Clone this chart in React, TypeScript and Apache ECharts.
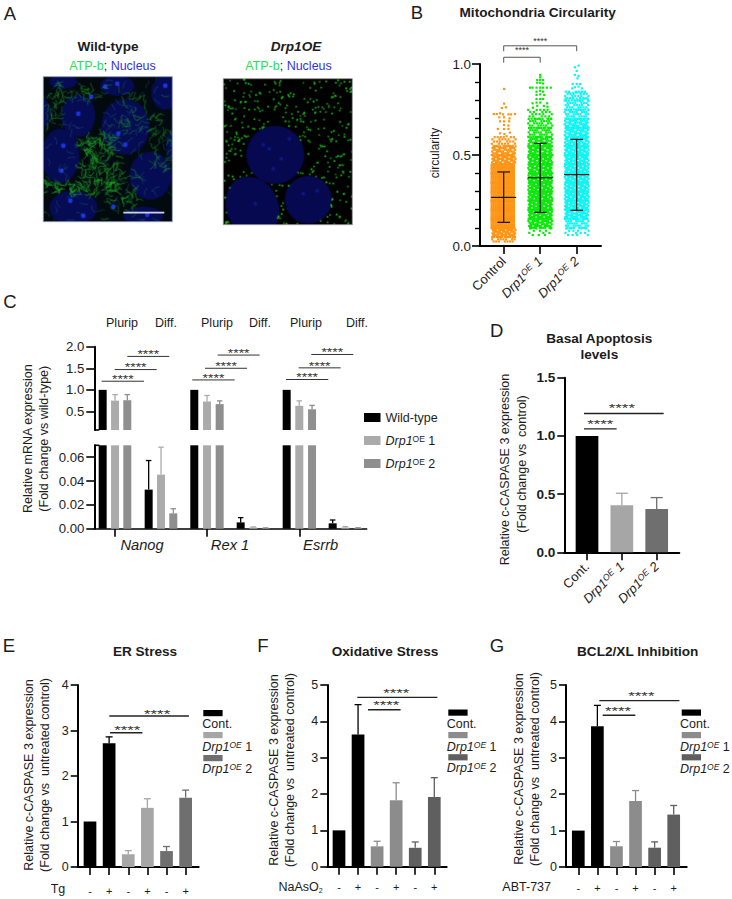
import React, { useEffect, useRef } from "react";
import * as echarts from "echarts";

const FONT = "Liberation Sans";
const INK = "#1c1c1c";

// ---------- Panel B: circularity ----------
const groupsB = ["Control", "Drp1OE 1", "Drp1OE 2"];
const colorsB = ["#ff9414", "#0ae80a", "#0cf5f5"];
// Dots per swarm row, per 0.05-wide band of circularity
const controlRows = [7, 12, 13, 13, 13, 13, 13, 13, 13, 11, 9, 6];
const drp1Rows = [0, 3, 10, 12, 12, 12, 12, 12, 11, 11, 10, 9, 8, 7, 5];
const drp2Rows = [0, 4, 8, 10, 11, 12, 12, 12, 12, 11, 11, 10, 9, 9, 8, 7, 6];
const lowestB = [0.025, 0.06, 0.06];
// Sparse tails read dot by dot: [offset from column centre, circularity]
const controlTail = [[0.01, 0.863], [0.01, 0.782], [-0.05, 0.758], [0.06, 0.762], [-0.27, 0.725], [-0.19, 0.725], [-0.1, 0.729], [-0.02, 0.723], [0.13, 0.723], [0.2, 0.723], [0.31, 0.725], [-0.12, 0.707], [0.01, 0.707], [0.16, 0.701], [-0.1, 0.685], [0.01, 0.685], [0.15, 0.685], [0.01, 0.665], [0.13, 0.662], [-0.16, 0.643], [0.01, 0.643], [0.13, 0.643], [0.17, 0.623], [-0.1, 0.619], [0.02, 0.615], [0.08, 0.603]];
const drp1Tail = [[0, 0.94], [0, 0.927], [0, 0.912], [-0.08, 0.912], [0.08, 0.912], [0, 0.897], [-0.08, 0.897], [0.08, 0.893], [-0.28, 0.87], [-0.21, 0.87], [-0.1, 0.87], [0, 0.87], [0.08, 0.87], [0.18, 0.87], [0.29, 0.87], [0, 0.853], [-0.1, 0.848], [0.08, 0.848], [0, 0.833], [-0.1, 0.83], [0.11, 0.83], [0, 0.808], [-0.1, 0.808], [0.08, 0.808], [0, 0.788], [-0.1, 0.788], [-0.21, 0.784], [0.19, 0.784], [-0.08, 0.77], [0.1, 0.77], [0.2, 0.765], [-0.2, 0.76]];
const drp2Tail = [[0.05, 0.991], [-0.05, 0.982], [0, 0.962], [-0.05, 0.94], [0.05, 0.934], [0.02, 0.921], [-0.11, 0.89], [0, 0.89], [0.09, 0.89], [-0.05, 0.872], [0.05, 0.876], [0.14, 0.866], [-0.12, 0.866], [-0.2, 0.842], [-0.09, 0.842], [0, 0.842], [0.11, 0.842], [0.21, 0.842], [-0.3, 0.81], [-0.2, 0.81], [-0.1, 0.81], [0, 0.81], [0.1, 0.81], [0.2, 0.81], [0.3, 0.81]];
const meansB = [0.267, 0.375, 0.392];
const lowsB = [0.13, 0.185, 0.196];
const highsB = [0.407, 0.564, 0.586];

// ---------- Panel C: mRNA ----------
const genotypesC = ["Wild-type", "Drp1OE 1", "Drp1OE 2"];
const colorsC = ["#000000", "#ababab", "#8f8f8f"];
const genesC = ["Nanog", "Rex 1", "Esrrb"];
const slotsWT = [1, 8.33, 15.72];
const slotsOE1 = [1.99, 9.35, 16.73];
const slotsOE2 = [2.97, 10.36, 17.75];
const diffWT = [4.68, 12.04, 19.4];
const diffOE1 = [5.67, 13.05, 20.41];
const diffOE2 = [6.65, 14.04, 21.43];
const plurWT = [1, 1, 1];
const plurOE1 = [0.75, 0.73, 0.63];
const plurOE2 = [0.76, 0.67, 0.55];
const plurOE1Top = [0.89, 0.87, 0.745];
const plurOE2Top = [0.89, 0.745, 0.64];
const diffWTVal = [0.0328, 0.0053, 0.0045];
const diffOE1Val = [0.0454, 0.001, 0.001];
const diffOE2Val = [0.0129, 0.0005, 0.0006];
const diffWTTop = [0.0572, 0.0093, 0.0073];
const diffOE1Top = [0.0684, 0.0015, 0.0018];
const diffOE2Top = [0.0168, 0.0007, 0.0008];
const sigC = [[0.92, 4.31, 1.2], [1.96, 5.32, 1.47], [2.97, 6.33, 1.775], [8.17, 11.56, 1.23], [9.19, 12.55, 1.5], [10.2, 13.56, 1.806], [15.67, 19.05, 1.24], [16.68, 20.04, 1.51], [17.69, 21.05, 1.82]];

// ---------- Panels D to G: c-CASPASE 3 ----------
const namesD = ["Cont.", "Drp1OE 1", "Drp1OE 2"];
const valuesD = [1, 0.404, 0.372];
const topsD = [1, 0.507, 0.47];
const colorsD = ["#000000", "#a6a6a6", "#6f6f6f"];
const sigD = [[0.914, 3.2, 1.192, -2, -5.6], [0.914, 1.85, 1.06, 0, -4.9]];

const signs = ["-", "+", "-", "+", "-", "+"];
const valuesE = [1, 2.72, 0.28, 1.3, 0.35, 1.52];
const topsE = [1, 2.86, 0.36, 1.5, 0.45, 1.69];
const colorsE = ["#000000", "#000000", "#a6a6a6", "#a6a6a6", "#6f6f6f", "#6f6f6f"];
const sigE = [[2.01, 6.17, 3.32, 8, -1.9], [2.05, 3.74, 2.95, 1, -2.6]];

const valuesF = [1, 3.64, 0.56, 1.83, 0.52, 1.92];
const topsF = [1, 4.46, 0.7, 2.31, 0.68, 2.45];
const colorsFG = ["#000000", "#000000", "#8c8c8c", "#8c8c8c", "#5f5f5f", "#5f5f5f"];
const sigF = [[1.96, 6.16, 4.66, -1, -3.9], [2.52, 4.23, 4.32, 2, -4.3]];

const valuesG = [1, 3.87, 0.57, 1.81, 0.53, 1.44];
const topsG = [1, 4.44, 0.7, 2.1, 0.69, 1.69];
const sigG = [[2.1, 6.3, 4.57, 2, -3.9], [2.28, 3.99, 4.17, -1, -3.9]];

// ---------- Panel A: painted stand-ins for the micrographs ----------
// [cx, cy, rx, ry, tilt], in pixels inside each image
const nucleiWT = [[35, 39, 17, 21, 0], [82, 50, 24, 28, 0], [17, 79, 19, 27, 0], [107, 99, 21, 24, 0], [30, 131, 24, 17, 0], [74, 9, 17, 10, 0], [122, 16, 14, 17, 0], [0, 36, 7, 14, 0], [100, 139, 20, 9, 0], [20, 5, 14, 7, 0], [128, 70, 5, 14, 0]];
const spotsWT = [[74, 7], [122, 9], [48, 20], [35, 37], [20, 69], [18, 94], [27, 124], [40, 139], [75, 57], [62, 10], [82, 68], [104, 138], [70, 130]];
const clustersWT = [[57, 89, 20, 30, 170, 0.85], [96, 35, 26, 20, 45, 0.65], [120, 72, 12, 20, 32, 0.65], [80, 119, 15, 25, 40, 0.75], [12, 29, 10, 20, 24, 0.65], [20, 110, 16, 6, 36, 0.95], [40, 15, 30, 8, 30, 0.65], [65, 75, 64, 72, 120, 0.35]];
const nucleiOE = [[52, 76, 29, 29, 0], [29, 128, 26, 31, -0.45], [85, 121, 23.5, 24, 0]];
const spotsOE = [[40, 66], [58, 80], [50, 90], [66, 60], [32, 125], [80, 115], [94, 112], [46, 70]];

function micrograph(w: number, h: number, wild: boolean) {
  const base = document.createElement("canvas");
  base.width = w;
  base.height = h;
  const c = base.getContext("2d") as CanvasRenderingContext2D;
  let seed = wild ? 4711 : 90210;
  const rnd = () => (seed = (seed * 16807) % 2147483647) / 2147483647;
  c.fillStyle = wild ? "#020a10" : "#000000";
  c.fillRect(0, 0, w, h);
  const nuclei = wild ? nucleiWT : nucleiOE;
  nuclei.forEach(([x, y, rx, ry, tilt]) => {
    c.fillStyle = wild ? "#060c54" : "#060950";
    c.beginPath();
    c.ellipse(x, y, rx, ry, tilt, 0, Math.PI * 2);
    c.fill();
  });
  (wild ? spotsWT : spotsOE).forEach(([x, y]) => {
    c.fillStyle = wild ? "#1a34e0" : "#0e1780";
    c.beginPath();
    c.arc(x, y, wild ? 2.4 : 2, 0, Math.PI * 2);
    c.fill();
  });
  if (wild) {
    clustersWT.forEach(([cx, cy, rx, ry, n, a]) => {
      for (let i = 0; i < n; i++) {
        let x = cx + (rnd() * 2 - 1) * rx;
        let y = cy + (rnd() * 2 - 1) * ry;
        let dir = rnd() * Math.PI * 2;
        c.strokeStyle = a > 0.5 ? `rgba(28,${120 + Math.floor(rnd() * 70)},36,${a})` : `rgba(40,150,125,${a})`;
        c.lineWidth = 0.8;
        c.beginPath();
        c.moveTo(x, y);
        for (let k = 0; k < 4; k++) {
          dir += (rnd() - 0.5) * 1.7;
          x += Math.cos(dir) * 2.1;
          y += Math.sin(dir) * 2.1;
          c.lineTo(x, y);
        }
        c.stroke();
      }
    });
  } else {
    for (let i = 0; i < 500; i++) {
      const x = rnd() * w;
      const y = rnd() * h;
      const inside = nuclei.some(([nx, ny, rx, ry]) => ((x - nx) / rx) ** 2 + ((y - ny) / ry) ** 2 < 1);
      if (inside) continue;
      c.fillStyle = `rgb(26,${130 + Math.floor(rnd() * 90)},30)`;
      c.beginPath();
      c.arc(x, y, 0.95, 0, Math.PI * 2);
      c.fill();
    }
  }
  const out = document.createElement("canvas");
  out.width = w;
  out.height = h;
  const o = out.getContext("2d") as CanvasRenderingContext2D;
  o.filter = "blur(0.45px)";
  o.drawImage(base, 0, 0);
  o.filter = "none";
  if (wild) {
    o.fillStyle = "#e8e8e8";
    o.fillRect(80, 135, 41, 1.6);
  }
  return out.toDataURL("image/png");
}

// ---------- helpers ----------
const oeRich = (size: number) => ({
  i: { fontStyle: "italic", fontSize: size, fontFamily: FONT, color: INK, fill: INK },
  s: { fontStyle: "italic", fontSize: size * 0.68, fontFamily: FONT, color: INK, fill: INK, verticalAlign: "top" },
  u: { fontSize: size * 0.68, fontFamily: FONT, color: INK, fill: INK, verticalAlign: "top" },
  n: { fontSize: size, fontFamily: FONT, color: INK, fill: INK },
});
const oeItalic = (name: string) => {
  const m = name.match(/^Drp1OE (\d)$/);
  return m ? `{i|Drp1}{s|OE}{i| ${m[1]}}` : name;
};
const oeMixed = (name: string) => {
  const m = name.match(/^Drp1OE (\d)$/);
  return m ? `{i|Drp1}{s|OE}{n| ${m[1]}}` : name;
};
const oeUpright = (name: string) => {
  const m = name.match(/^Drp1OE (\d)$/);
  return m ? `{i|Drp1}{u|OE}{n| ${m[1]}}` : name;
};

function swarm(center: number, lowest: number, bands: number[], tail: number[][]) {
  const pts: number[][] = [];
  let row = 0;
  bands.forEach((n, b) => {
    if (!n) return;
    const step = n >= 9 ? 0.0095 : 0.012;
    const loose = n >= 13 ? 0 : 1;
    for (let y = Math.max(b * 0.05, lowest); y < (b + 1) * 0.05; y += step) {
      row += 1;
      const gap = 0.66 / n;
      for (let j = 0; j < n; j++) {
        const nudge = loose * ((j * 0.7549 + row * 0.5698) % 1);
        pts.push([center - 0.33 + gap * (j + nudge), y]);
      }
    }
  });
  tail.forEach(([dx, y]) => pts.push([center + dx, y]));
  return pts;
}

const lineStyle = (color: string, lineWidth: number) => ({ stroke: color, lineWidth, fill: "none" });
const seg = (x1: number, y1: number, x2: number, y2: number, color: string, lineWidth: number) => ({
  type: "line",
  shape: { x1, y1, x2, y2 },
  style: lineStyle(color, lineWidth),
});

function errSeries(g: number, xs: number[], bases: number[], tops: number[], colors: string[] | string, cap: number) {
  return {
    type: "custom",
    xAxisIndex: g,
    yAxisIndex: g,
    silent: true,
    clip: false,
    z: 3,
    data: xs.map((x, i) => [x, bases[i], tops[i]]),
    encode: { x: 0, y: [1, 2] },
    renderItem: (p: any, api: any) => {
      const a = api.coord([api.value(0), api.value(1)]);
      const b = api.coord([api.value(0), api.value(2)]);
      const color = typeof colors === "string" ? colors : colors[p.dataIndex];
      return {
        type: "group",
        children: [seg(a[0], a[1], b[0], b[1], color, 1.3), seg(b[0] - cap / 2, b[1], b[0] + cap / 2, b[1], color, 1.3)],
      };
    },
  };
}

function sigSeries(g: number, rows: number[][], o: { size: number; stretch?: number; color: string; lineWidth: number; dy?: number; drop?: number }) {
  return {
    type: "custom",
    xAxisIndex: g,
    yAxisIndex: g,
    silent: true,
    clip: false,
    z: 4,
    data: rows.map((r) => [r[0], r[1], r[2], r[3] ?? 0, r[4] ?? o.dy ?? -1]),
    encode: { x: [0, 1], y: 2 },
    renderItem: (_: any, api: any) => {
      const a = api.coord([api.value(0), api.value(2)]);
      const b = api.coord([api.value(1), api.value(2)]);
      const children: any[] = [seg(a[0], a[1], b[0], b[1], o.color, o.lineWidth)];
      if (o.drop) {
        children.push(seg(a[0], a[1], a[0], a[1] + o.drop, o.color, o.lineWidth));
        children.push(seg(b[0], b[1], b[0], b[1] + o.drop, o.color, o.lineWidth));
      }
      children.push({
        type: "text",
        x: (a[0] + b[0]) / 2 + api.value(3),
        y: a[1] + api.value(4),
        scaleX: o.stretch ?? 1,
        style: { text: "****", font: `${o.size}px "${FONT}"`, fill: "#333", align: "center", verticalAlign: "middle" },
      });
      return { type: "group", children };
    },
  };
}

const px = (left: number, right: number, top: number, bottom: number) => ({
  left,
  top,
  width: right - left,
  height: bottom - top,
  containLabel: false,
});
const axisLine = (w = 2) => ({ show: true, onZero: false, lineStyle: { color: "#000", width: w } });
const axisTick = (len: number, w = 1.6, customValues?: number[]) => ({
  show: true,
  length: len,
  lineStyle: { color: "#000", width: w },
  ...(customValues ? { customValues } : {}),
});

function txt(text: string, x: number, y: number, size: number, extra: any = {}) {
  const { rich, align, bold, italic, fill, rotation } = extra;
  return {
    type: "text",
    x,
    y,
    rotation: rotation ?? 0,
    silent: true,
    style: {
      text,
      rich,
      fontFamily: FONT,
      fontSize: size,
      fontWeight: bold ? "bold" : "normal",
      fontStyle: italic ? "italic" : "normal",
      fill: fill ?? INK,
      align: align ?? "center",
      verticalAlign: "middle",
    },
  };
}
const vtxt = (text: string, x: number, y: number, size = 12.5) => txt(text, x, y, size, { rotation: Math.PI / 2 });

function swatchLegend(rectX: number, textX: number, rectYs: number[], textYs: number[], colors: string[]) {
  const out: any[] = [];
  rectYs.forEach((y, i) => {
    out.push({ type: "rect", silent: true, shape: { x: rectX, y, width: 19.3, height: 6.2 }, style: { fill: colors[i] } });
    out.push(txt(oeMixed(namesD[i]), textX, textYs[i], 12.5, { align: "left", rich: oeRich(12.5) }));
  });
  return out;
}

function App() {
  const ref = useRef<HTMLDivElement>(null);
  useEffect(() => {
    document.body.style.margin = "0";
    const chart = echarts.init(ref.current as HTMLDivElement, null, { renderer: "svg" });

    const grid: any[] = [];
    const xAxis: any[] = [];
    const yAxis: any[] = [];
    const series: any[] = [];

    // ---- B (grid 0)
    const centreB = 503.7;
    const unitB = 36.5;
    grid.push(px(480, 601, 64, 246));
    xAxis.push({
      type: "value",
      gridIndex: 0,
      min: 1 - (centreB - 480) / unitB,
      max: 1 + (601 - centreB) / unitB,
      splitLine: { show: false },
      axisLine: axisLine(),
      axisTick: axisTick(8, 1.6, [1, 2, 3]),
      axisLabel: {
        customValues: [1, 2, 3],
        rotate: 45,
        margin: 13,
        fontFamily: FONT,
        fontSize: 13,
        color: INK,
        formatter: (v: number) => oeItalic(groupsB[v - 1]),
        rich: oeRich(13),
      },
    });
    yAxis.push({
      type: "value",
      gridIndex: 0,
      min: 0,
      max: 1,
      interval: 0.5,
      splitLine: { show: false },
      axisLine: axisLine(),
      axisTick: axisTick(8),
      minorTick: { show: true, splitNumber: 5, length: 5, lineStyle: { color: "#000", width: 1.4 } },
      axisLabel: { margin: 9, fontFamily: FONT, fontSize: 13.4, color: INK, formatter: (v: number) => v.toFixed(1) },
    });
    [controlRows, drp1Rows, drp2Rows].forEach((rows, i) => {
      series.push({
        type: "scatter",
        name: `${groupsB[i]} circularity`,
        xAxisIndex: 0,
        yAxisIndex: 0,
        silent: true,
        symbol: "rect",
        symbolSize: 2.2,
        itemStyle: { color: colorsB[i], opacity: 1 },
        data: swarm(i + 1, lowestB[i], rows, [controlTail, drp1Tail, drp2Tail][i]),
      });
    });
    series.push({
      type: "custom",
      xAxisIndex: 0,
      yAxisIndex: 0,
      silent: true,
      clip: false,
      z: 5,
      data: meansB.map((m, i) => [i + 1, m, lowsB[i], highsB[i]]),
      encode: { x: 0, y: [1, 2, 3] },
      renderItem: (_: any, api: any) => {
        const x = api.value(0);
        const m = api.coord([x, api.value(1)]);
        const l = api.coord([x, api.value(2)]);
        const h = api.coord([x, api.value(3)]);
        const k = "#161616";
        return {
          type: "group",
          children: [
            seg(m[0] - 12.5, m[1], m[0] + 12.5, m[1], k, 1.2),
            seg(l[0], l[1], h[0], h[1], k, 1.2),
            seg(l[0] - 6.3, l[1], l[0] + 6.3, l[1], k, 1.2),
            seg(h[0] - 6.3, h[1], h[0] + 6.3, h[1], k, 1.2),
          ],
        };
      },
    });
    series.push(sigSeries(0, [[1, 2, 1.037, 0, -7]], { size: 9, color: "#555", lineWidth: 1, drop: 5.4 }));
    series.push(sigSeries(0, [[1, 3, 1.1, 0, -5]], { size: 9, color: "#555", lineWidth: 1, drop: 5.4 }));

    // ---- C upper (grid 1) and lower (grid 2)
    const cLeft = 94.3;
    const cRight = 366.7;
    const cUnit = 12.5;
    const cFirst = 102.67;
    const cMin = 1 - (cFirst - cLeft) / cUnit;
    const cMax = 1 + (cRight - cFirst) / cUnit;
    grid.push(px(cLeft, cRight, 346.7, 430));
    grid.push(px(cLeft, cRight, 445.3, 528.7));
    xAxis.push({ type: "value", gridIndex: 1, min: cMin, max: cMax, show: false, splitLine: { show: false } });
    const upperTicks = [0.5, 1, 1.5, 2];
    const lowerTicks = [0, 0.02, 0.04, 0.06];
    xAxis.push({
      type: "value",
      gridIndex: 2,
      min: cMin,
      max: cMax,
      splitLine: { show: false },
      axisLine: axisLine(1.5),
      axisTick: axisTick(8, 1.6, [1.99, 9.35, 16.73]),
      axisLabel: {
        customValues: [4.15, 11.19, 18.44],
        margin: 9,
        fontFamily: FONT,
        fontSize: 14.7,
        fontStyle: "italic",
        color: INK,
        formatter: (v: number) => genesC[[4.15, 11.19, 18.44].indexOf(v)],
      },
    });
    yAxis.push({
      type: "value",
      gridIndex: 1,
      min: 0.07,
      max: 2,
      splitLine: { show: false },
      axisLine: axisLine(),
      axisTick: axisTick(8, 1.6, upperTicks),
      axisLabel: { customValues: upperTicks, margin: 10, fontFamily: FONT, fontSize: 13.2, color: INK, formatter: (v: number) => v.toFixed(1) },
    });
    yAxis.push({
      type: "value",
      gridIndex: 2,
      min: 0,
      max: 0.07,
      splitLine: { show: false },
      axisLine: axisLine(),
      axisTick: axisTick(8, 1.6, lowerTicks),
      axisLabel: { customValues: lowerTicks, margin: 10, fontFamily: FONT, fontSize: 13.2, color: INK, formatter: (v: number) => v.toFixed(2) },
    });
    const zip = (xs: number[], ys: number[]) => xs.map((x, i) => [x, ys[i]]);
    const plurSlots = [slotsWT, slotsOE1, slotsOE2];
    const plurVals = [plurWT, plurOE1, plurOE2];
    const diffSlots = [diffWT, diffOE1, diffOE2];
    const diffVals = [diffWTVal, diffOE1Val, diffOE2Val];
    const diffTops = [diffWTTop, diffOE1Top, diffOE2Top];
    genotypesC.forEach((name, i) => {
      const common = { type: "bar", name, barWidth: 8, barGap: "-100%", silent: true, itemStyle: { color: colorsC[i] } };
      series.push({ ...common, xAxisIndex: 1, yAxisIndex: 1, data: zip(plurSlots[i], plurVals[i]) });
      series.push({
        ...common,
        xAxisIndex: 2,
        yAxisIndex: 2,
        data: [...zip(plurSlots[i], plurVals[i]), ...zip(diffSlots[i], diffVals[i])],
      });
      series.push(errSeries(2, diffSlots[i], diffVals[i], diffTops[i], colorsC[i], 5.5));
    });
    series.push(errSeries(1, slotsOE1, plurOE1, plurOE1Top, colorsC[1], 5.5));
    series.push(errSeries(1, slotsOE2, plurOE2, plurOE2Top, colorsC[2], 5.5));
    series.push(sigSeries(1, sigC, { size: 10.5, stretch: 1.33, color: "#333", lineWidth: 1, dy: -1.5 }));

    // ---- D to G (grids 3..6)
    const barPanel = (g: number, o: any) => {
      grid.push(px(o.left, o.right, o.top, o.bottom));
      const ticks = o.values.map((_: number, i: number) => i + 1);
      xAxis.push({
        type: "value",
        gridIndex: g,
        min: 1 - (o.first - o.left) / o.unit,
        max: 1 + (o.right - o.first) / o.unit,
        splitLine: { show: false },
        axisLine: axisLine(),
        axisTick: axisTick(8, 1.6, ticks),
        axisLabel: { customValues: ticks, ...o.xLabel },
      });
      yAxis.push({
        type: "value",
        gridIndex: g,
        min: 0,
        max: o.max,
        interval: o.interval,
        splitLine: { show: false },
        axisLine: axisLine(),
        axisTick: axisTick(7),
        axisLabel: { margin: o.yMargin ?? 9, fontFamily: FONT, color: INK, ...o.yLabel },
      });
      series.push({
        type: "bar",
        xAxisIndex: g,
        yAxisIndex: g,
        barWidth: o.barWidth,
        silent: true,
        name: o.name,
        data: o.values.map((v: number, i: number) => ({ value: [i + 1, v], itemStyle: { color: o.colors[i] } })),
      });
      const withErr = ticks.map((_: number, i: number) => i).filter((i: number) => o.tops[i] > o.values[i]);
      series.push(
        errSeries(
          g,
          withErr.map((i: number) => i + 1),
          withErr.map((i: number) => o.values[i]),
          withErr.map((i: number) => o.tops[i]),
          withErr.map((i: number) => o.colors[i]),
          o.cap
        )
      );
      series.push(sigSeries(g, o.sig, { size: 10.5, stretch: 1.6, color: "#222", lineWidth: 1.4 }));
    };
    const signLabel = (margin: number) => ({
      margin,
      fontFamily: FONT,
      fontSize: 11,
      color: INK,
      formatter: (v: number) => signs[v - 1],
    });
    barPanel(3, {
      name: "Basal Apoptosis levels",
      left: 564.3,
      right: 679.3,
      top: 377.7,
      bottom: 552.3,
      first: 587,
      unit: 34.85,
      max: 1.5,
      interval: 0.5,
      values: valuesD,
      tops: topsD,
      colors: colorsD,
      sig: sigD,
      barWidth: 22.7,
      cap: 12,
      yMargin: 9,
      yLabel: { fontSize: 13.6, fontWeight: "bold", formatter: (v: number) => v.toFixed(1) },
      xLabel: {
        rotate: 45,
        margin: 12,
        fontFamily: FONT,
        fontSize: 13,
        color: INK,
        formatter: (v: number) => oeItalic(namesD[v - 1]),
        rich: oeRich(13),
      },
    });
    const shared = { top: 685, interval: 1, barWidth: 12.7, cap: 7, yLabel: { fontSize: 12.5 } };
    barPanel(4, { ...shared, name: "ER Stress", left: 77.7, right: 198.7, bottom: 867, first: 90, unit: 19.13, max: 4, values: valuesE, tops: topsE, colors: colorsE, sig: sigE, xLabel: signLabel(18) });
    barPanel(5, { ...shared, name: "Oxidative Stress", left: 327.3, right: 446.7, bottom: 866.7, first: 339, unit: 19.06, max: 5, values: valuesF, tops: topsF, colors: colorsFG, sig: sigF, xLabel: signLabel(15) });
    barPanel(6, { ...shared, name: "BCL2/XL Inhibition", left: 566, right: 686.7, bottom: 867, first: 578.3, unit: 19.08, max: 5, values: valuesG, tops: topsG, colors: colorsFG, sig: sigG, xLabel: signLabel(15) });

    // ---- free texts and panel A
    const atpRich = {
      g: { fontFamily: FONT, fontSize: 12.5, fill: "#2be04e" },
      k: { fontFamily: FONT, fontSize: 12.5, fill: INK },
      b: { fontFamily: FONT, fontSize: 12.5, fill: "#3333e0" },
    };
    const graphic: any[] = [
      txt("A", 10, 13, 18.5),
      txt("B", 417, 12, 18.5),
      txt("C", 10, 301, 18.5),
      txt("D", 496.7, 330, 18.5),
      txt("E", 9, 645, 18.5),
      txt("F", 263, 645, 18.5),
      txt("G", 497, 645, 18.5),
      txt("Wild-type", 108, 46, 13.6, { bold: true }),
      txt("Drp1OE", 296, 46, 13.6, { bold: true, italic: true }),
      txt("{g|ATP-b}{k|;} {b|Nucleus}", 112.5, 65.7, 12.5, { rich: atpRich }),
      txt("{g|ATP-b}{k|;} {b|Nucleus}", 288.5, 66, 12.5, { rich: atpRich }),
      { type: "image", silent: true, x: 43.3, y: 76.7, style: { image: micrograph(129, 145, true), width: 129, height: 145 } },
      { type: "image", silent: true, x: 223.3, y: 78.7, style: { image: micrograph(129, 146, false), width: 129, height: 146 } },
      { type: "rect", silent: true, shape: { x: 43.3, y: 76.7, width: 129, height: 145 }, style: { fill: "none", stroke: "#8f9cc4", lineWidth: 0.8 } },
      { type: "rect", silent: true, shape: { x: 223.3, y: 78.7, width: 129, height: 146 }, style: { fill: "none", stroke: "#9a9a9a", lineWidth: 0.8 } },
      txt("Mitochondria Circularity", 537.7, 12.7, 13.6, { bold: true }),
      vtxt("circularity", 435, 153, 12),
      txt("Plurip", 122, 323, 12.5),
      txt("Diff.", 166, 323, 12.5),
      txt("Plurip", 217, 323, 12.5),
      txt("Diff.", 260, 323, 12.5),
      txt("Plurip", 306, 323, 12.5),
      txt("Diff.", 357, 323, 12.5),
      vtxt("Relative mRNA expression", 28.3, 438.7),
      vtxt("(Fold change vs wild-type)", 44.3, 438.7),
      seg(94.3, 430, 99.3, 430, "#000", 1.6),
      seg(94.3, 445.3, 99.3, 445.3, "#000", 1.6),
      txt("Basal Apoptosis", 599.3, 338, 13.6, { bold: true }),
      txt("levels", 599.3, 354, 13.6, { bold: true }),
      vtxt("Relative c-CASPASE 3 expression", 505, 469.5),
      vtxt("(Fold change vs  control)", 521.7, 464),
      txt("ER Stress", 145, 651, 13.6, { bold: true }),
      txt("Oxidative Stress", 385, 651, 13.6, { bold: true }),
      txt("BCL2/XL Inhibition", 637.7, 651, 13.6, { bold: true }),
      vtxt("Relative c-CASPASE 3 expression", 29.3, 775),
      vtxt("(Fold change vs  untreated control)", 45, 775),
      vtxt("Relative c-CASPASE 3 expression", 274, 770),
      vtxt("(Fold change vs  untreated control)", 290, 770),
      vtxt("Relative c-CASPASE 3 expression", 519.3, 769),
      vtxt("(Fold change vs  untreated control)", 535, 769),
      txt("Tg", 65.3, 889, 12.5, { align: "right" }),
      txt("{n|NaAsO}{o|2}", 322.7, 887, 12.5, {
        align: "right",
        rich: {
          n: { fontFamily: FONT, fontSize: 12.5, fill: INK },
          o: { fontFamily: FONT, fontSize: 7, fill: INK, verticalAlign: "bottom" },
        },
      }),
      txt("ABT-737", 551, 887, 12.5, { align: "right" }),
      ...swatchLegend(203.3, 202.3, [710, 732, 755], [724, 746.7, 769.3], ["#000", "#a6a6a6", "#6f6f6f"]),
      ...swatchLegend(448.3, 446.7, [709.5, 732, 754.2], [724, 746.7, 768.3], ["#000", "#8c8c8c", "#5f5f5f"]),
      ...swatchLegend(681.7, 680, [709.5, 732, 754.2], [724, 746.7, 769.3], ["#000", "#8c8c8c", "#5f5f5f"]),
    ];

    chart.setOption({
      animation: false,
      textStyle: { fontFamily: FONT },
      grid,
      xAxis,
      yAxis,
      series,
      legend: {
        orient: "vertical",
        left: 359,
        top: 406,
        itemWidth: 16.5,
        itemHeight: 9,
        itemGap: 10,
        icon: "rect",
        selectedMode: false,
        data: genotypesC,
        formatter: (n: string) => oeUpright(n),
        textStyle: { fontFamily: FONT, fontSize: 12.5, color: INK, rich: oeRich(12.5) },
      },
      graphic: { elements: graphic },
    });
    return () => chart.dispose();
  }, []);
  return <div ref={ref} style={{ width: 732, height: 899 }} />;
}

export default App;
